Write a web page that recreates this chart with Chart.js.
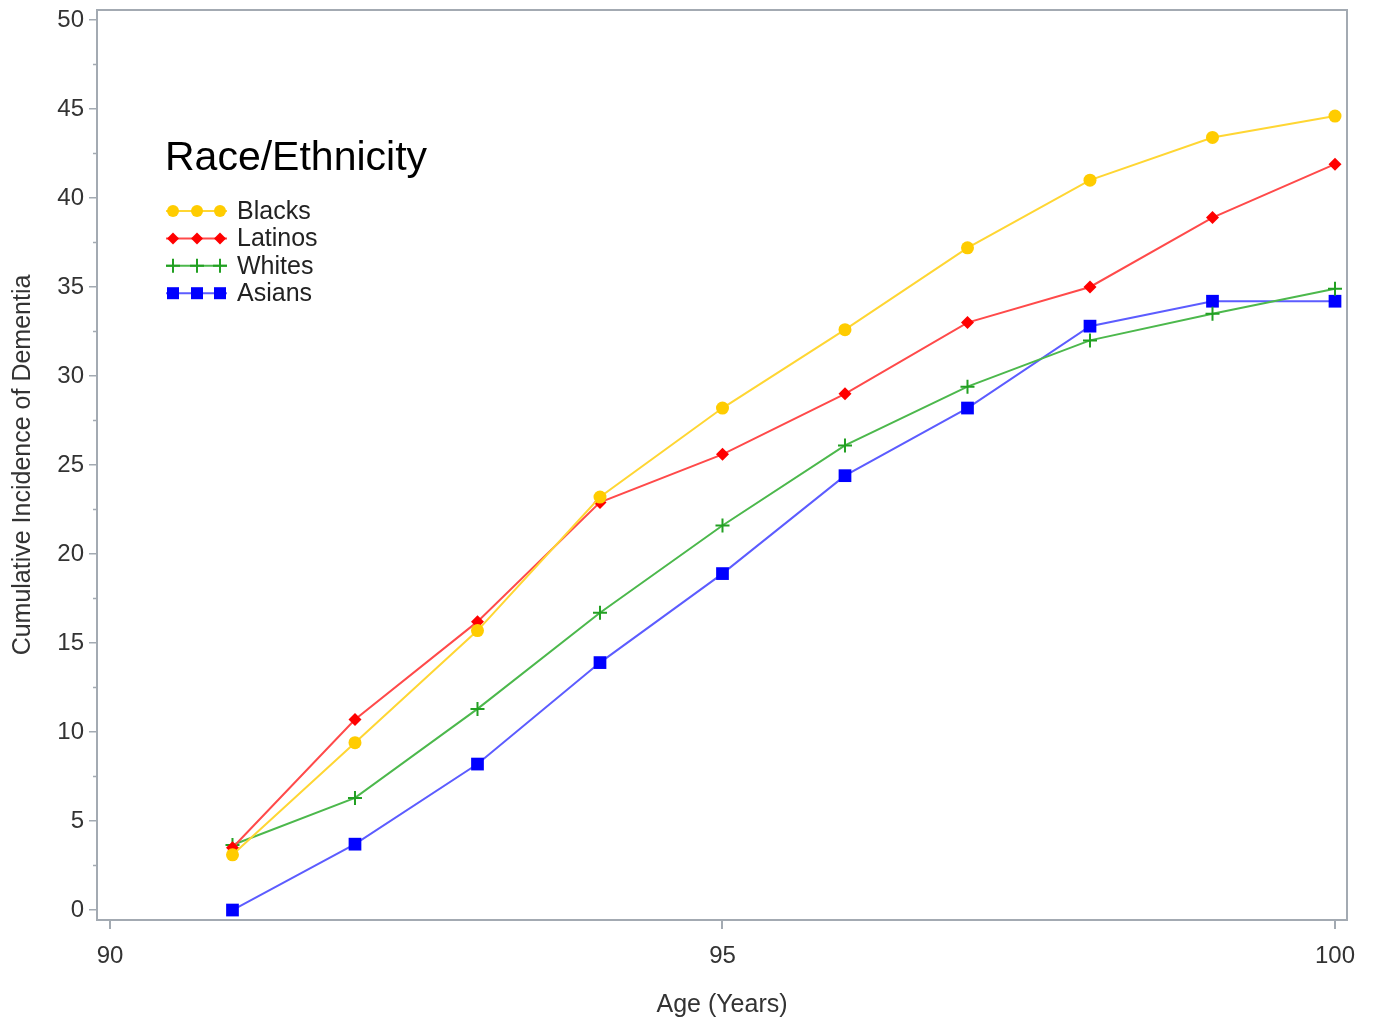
<!DOCTYPE html>
<html lang="en">
<head>
<meta charset="UTF-8">
<title>Cumulative Incidence of Dementia</title>
<script src="https://cdn.jsdelivr.net/npm/chart.js"></script>
<style>
  html, body { margin: 0; padding: 0; background: #fff; }
  #box { width: 1375px; height: 1026px; position: relative; }
</style>
</head>
<body>
<div id="box"><canvas id="chart"></canvas></div>
<script>
// ages on the x axis
const ages = [91, 92, 93, 94, 95, 96, 97, 98, 99, 100];

// cumulative incidence (%)
const blacks  = [3.1, 9.4, 15.7, 23.2, 28.2, 32.6, 37.2, 41.0, 43.4, 44.6];
const latinos = [3.5, 10.7, 16.2, 22.9, 25.6, 29.0, 33.0, 35.0, 38.9, 41.9];
const whites  = [3.65, 6.3, 11.3, 16.7, 21.6, 26.1, 29.4, 32.0, 33.5, 34.9];
const asians  = [0.0, 3.7, 8.2, 13.9, 18.9, 24.4, 28.2, 32.8, 34.2, 34.2];

const xTicks = [90, 95, 100];
const yTicks = [0, 5, 10, 15, 20, 25, 30, 35, 40, 45, 50];
const yMinor = [2.5, 7.5, 12.5, 17.5, 22.5, 27.5, 32.5, 37.5, 42.5, 47.5];

const FONT = '"Liberation Sans", Arial, sans-serif';
const AXIS = '#a3aab2';

function pts(ys) {
    return ages.map((a, i) => ({ x: a, y: ys[i] }));
}

// r = chart point radius, lr = legend marker size
const series = [
    { label: 'Blacks',  data: blacks,  line: '#ffd633', mark: '#ffcc00', style: 'circle',  r: 6.5, lr: 6 },
    { label: 'Latinos', data: latinos, line: '#ff4a4a', mark: '#ff0000', style: 'rectRot', r: 6.5, lr: 6 },
    { label: 'Whites',  data: whites,  line: '#4cb84c', mark: '#22a022', style: 'cross',   r: 7,   lr: 7 },
    { label: 'Asians',  data: asians,  line: '#5c5cff', mark: '#0000ff', style: 'rect',    r: 9,   lr: 6 }
];

function drawMarker(ctx, style, x, y, r, color) {
    ctx.save();
    ctx.fillStyle = color;
    ctx.strokeStyle = color;
    ctx.lineWidth = 2;
    ctx.beginPath();
    if (style === 'circle') {
        ctx.arc(x, y, r, 0, Math.PI * 2);
        ctx.fill();
    } else if (style === 'rectRot') {
        ctx.moveTo(x, y - r); ctx.lineTo(x + r, y); ctx.lineTo(x, y + r); ctx.lineTo(x - r, y);
        ctx.closePath();
        ctx.fill();
    } else if (style === 'rect') {
        ctx.rect(x - r, y - r, r * 2, r * 2);
        ctx.fill();
    } else {
        ctx.moveTo(x - r, y); ctx.lineTo(x + r, y);
        ctx.moveTo(x, y - r); ctx.lineTo(x, y + r);
        ctx.stroke();
    }
    ctx.restore();
}

// frame on top/right, minor y ticks, and the legend block inside the plot
const extras = {
    id: 'extras',
    afterDraw(chart) {
        const ctx = chart.ctx;
        const a = chart.chartArea;
        ctx.save();
        ctx.strokeStyle = AXIS;
        ctx.lineWidth = 2;
        ctx.beginPath();
        ctx.moveTo(a.left, a.top); ctx.lineTo(a.right, a.top); ctx.lineTo(a.right, a.bottom);
        ctx.stroke();

        const ys = chart.scales.y;
        ctx.lineWidth = 1.5;
        ctx.beginPath();
        yMinor.forEach(v => {
            const py = ys.getPixelForValue(v);
            ctx.moveTo(a.left - 4, py); ctx.lineTo(a.left, py);
        });
        ctx.stroke();

        ctx.fillStyle = '#000';
        ctx.font = '41px ' + FONT;
        ctx.textBaseline = 'middle';
        ctx.textAlign = 'left';
        ctx.fillText('Race/Ethnicity', 165, 159);

        ctx.font = '25px ' + FONT;
        ctx.fillStyle = '#222';
        series.forEach((s, i) => {
            const y = 211 + i * 27.4;
            ctx.strokeStyle = s.line;
            ctx.lineWidth = 2;
            ctx.beginPath();
            ctx.moveTo(166, y); ctx.lineTo(227, y);
            ctx.stroke();
            [173, 197, 220].forEach(x => drawMarker(ctx, s.style, x, y, s.lr, s.mark));
            ctx.fillText(s.label, 237, y + 1);
        });
        ctx.restore();
    }
};

new Chart(document.getElementById('chart'), {
    type: 'line',
    data: {
        datasets: series.map(s => ({
            label: s.label,
            data: pts(s.data),
            borderColor: s.line,
            borderWidth: 2,
            pointStyle: s.style,
            pointRadius: s.r,
            pointBorderWidth: s.style === 'cross' ? 2 : 0,
            pointBackgroundColor: s.mark,
            pointBorderColor: s.mark,
            tension: 0
        }))
    },
    options: {
        responsive: true,
        maintainAspectRatio: false,
        animation: false,
        events: [],
        layout: { padding: { top: 10, right: 28, left: 0, bottom: 0 } },
        plugins: { legend: { display: false }, tooltip: { enabled: false } },
        scales: {
            x: {
                type: 'linear',
                min: 89.894,
                max: 100.098,
                afterBuildTicks: sc => { sc.ticks = xTicks.map(v => ({ value: v })); },
                afterFit: sc => { sc.height = 106; sc.paddingLeft = 0; sc.paddingRight = 0; },
                grid: { drawOnChartArea: false, color: AXIS, tickLength: 9, lineWidth: 2 },
                border: { color: AXIS, width: 2 },
                ticks: { color: '#333', font: { family: FONT, size: 24 }, padding: 13 },
                title: { display: true, text: 'Age (Years)', color: '#333',
                         font: { family: FONT, size: 25 }, padding: { top: 0, bottom: 6 } }
            },
            y: {
                min: -0.56,
                max: 50.56,
                afterBuildTicks: sc => { sc.ticks = yTicks.map(v => ({ value: v })); },
                afterFit: sc => { sc.width = 97; sc.paddingTop = 0; sc.paddingBottom = 0; },
                grid: { drawOnChartArea: false, color: AXIS, tickLength: 8, lineWidth: 1.5 },
                border: { color: AXIS, width: 2 },
                ticks: { color: '#333', font: { family: FONT, size: 24 }, padding: 5 },
                title: { display: true, text: 'Cumulative Incidence of Dementia', color: '#333',
                         font: { family: FONT, size: 25 }, padding: { top: 8, bottom: 0 } }
            }
        }
    },
    plugins: [extras]
});
</script>
</body>
</html>
